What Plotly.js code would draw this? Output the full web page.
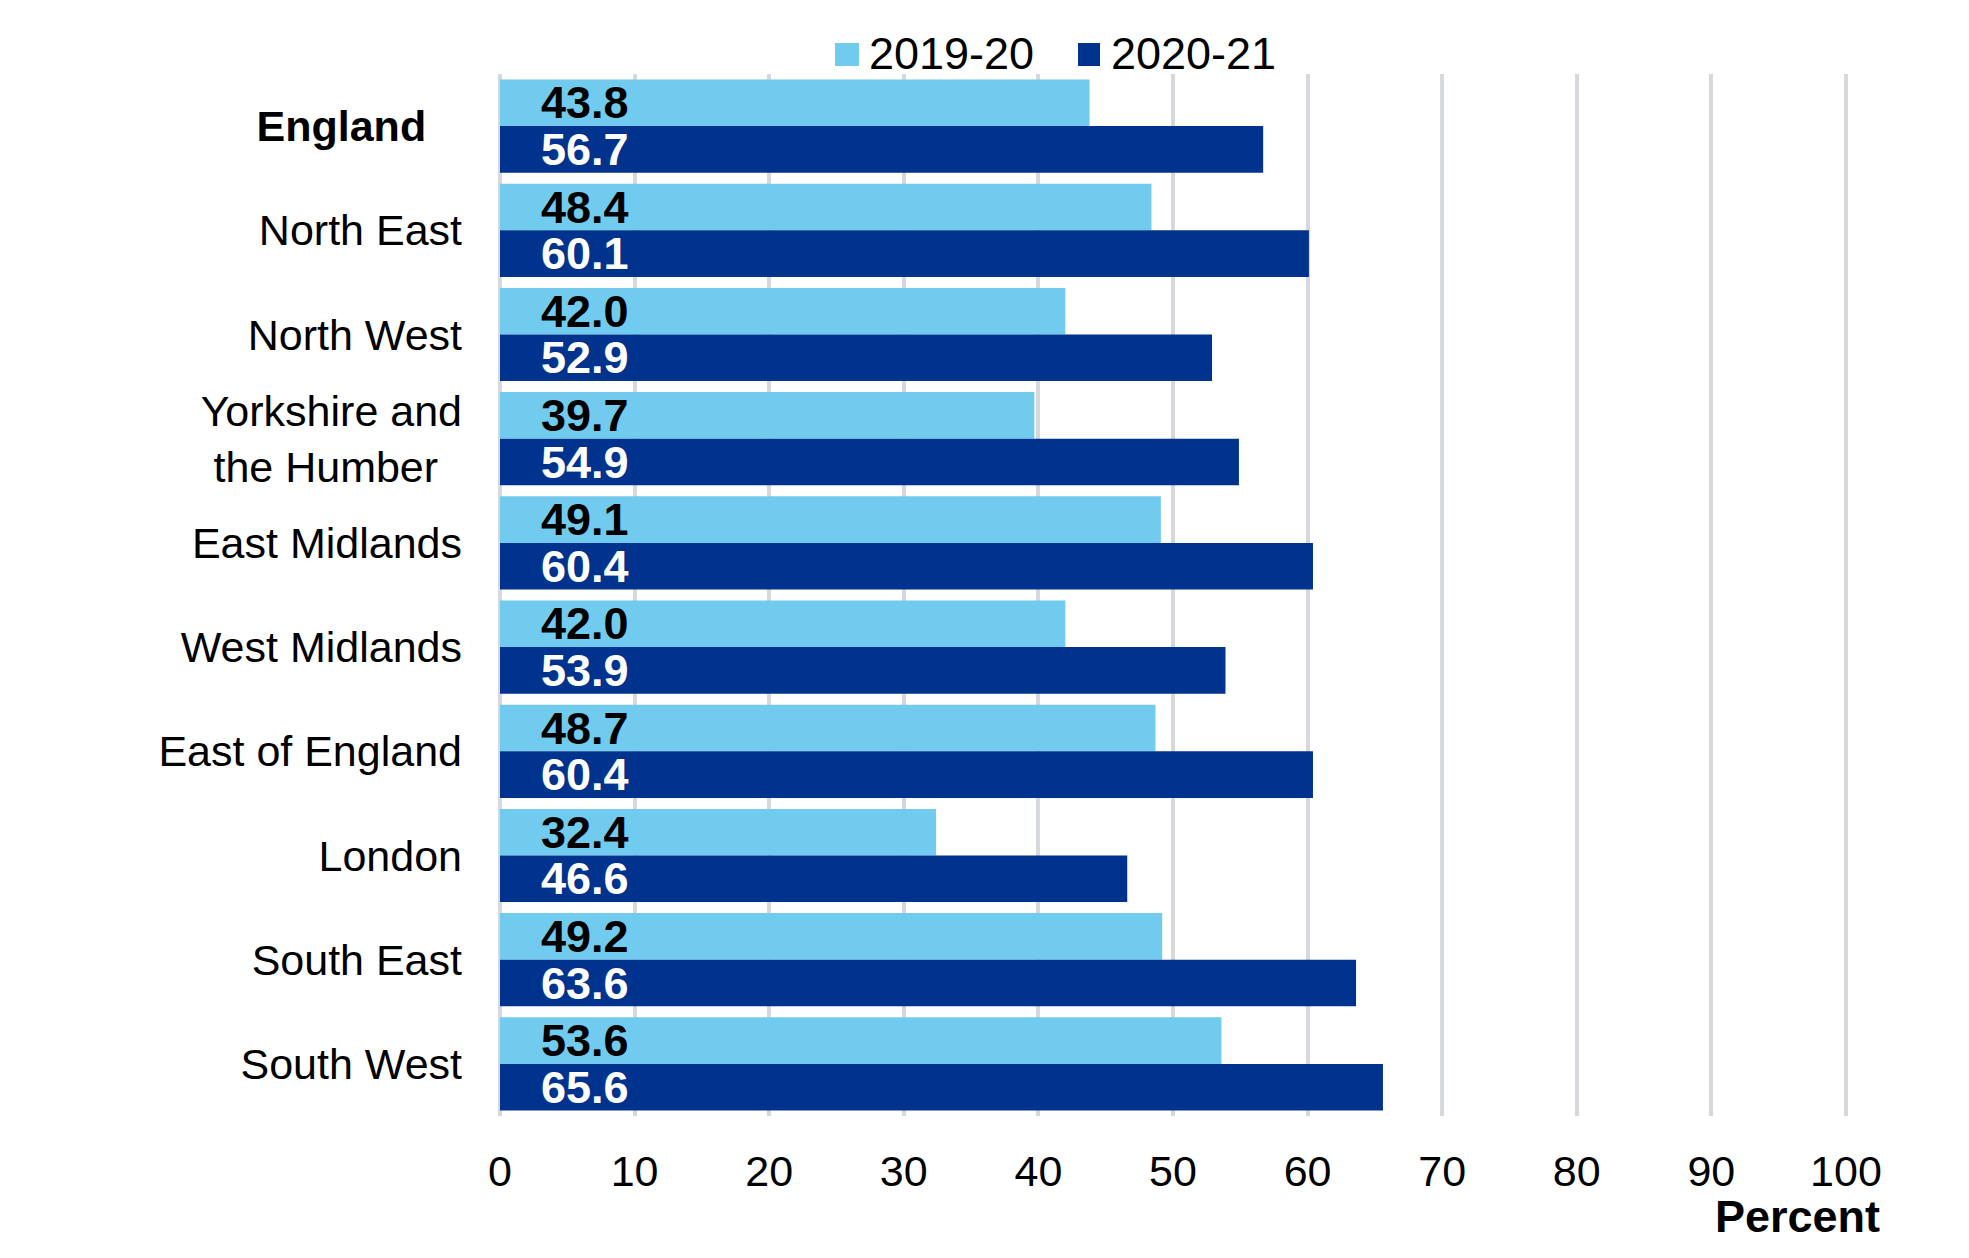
<!DOCTYPE html>
<html>
<head>
<meta charset="utf-8">
<script src="https://cdn.plot.ly/plotly-3.0.1.min.js"></script>
<style>
  html, body { margin: 0; padding: 0; background: #ffffff; }
  #chart { width: 1969px; height: 1258px; }
</style>
</head>
<body>
<div id="chart"></div>
<script>
// Regions of England, top to bottom
const regions = [
  'England', 'North East', 'North West', 'Yorkshire and the Humber',
  'East Midlands', 'West Midlands', 'East of England', 'London',
  'South East', 'South West'
];

// Tick text for each region (England in bold, long name on two lines)
const regionLabels = [
  '<b>England</b>\u00a0\u00a0\u00a0', 'North East', 'North West',
  'Yorkshire and<br>the Humber\u00a0\u00a0',
  'East Midlands', 'West Midlands', 'East of England', 'London',
  'South East', 'South West'
];

const seriesNames = ['2019-20', '2020-21'];

// Percent values per region
const values2019_20 = [43.8, 48.4, 42.0, 39.7, 49.1, 42.0, 48.7, 32.4, 49.2, 53.6];
const values2020_21 = [56.7, 60.1, 52.9, 54.9, 60.4, 53.9, 60.4, 46.6, 63.6, 65.6];

const xTicks = [0, 10, 20, 30, 40, 50, 60, 70, 80, 90, 100];

const colors = ['#71CBEE', '#00338D'];
const labelColors = ['#000000', '#ffffff'];
const FONT = '"Liberation Sans", Arial, Helvetica, sans-serif';

const W = 1969, H = 1258;
const M = { l: 500, r: 121, t: 74, b: 142 };
const plotW = W - M.l - M.r, plotH = H - M.t - M.b;
// helpers: page pixel -> paper coordinate
const px = x => (x - M.l) / plotW;
const py = y => (H - M.b - y) / plotH;

const series = [values2019_20, values2020_21];

const traces = series.map((vals, i) => ({
  type: 'bar',
  orientation: 'h',
  name: seriesNames[i],
  x: vals,
  y: regions,
  marker: { color: colors[i], line: { width: 0 } },
  hoverinfo: 'skip',
  showlegend: false
}));

// value labels near the start of each bar
const annotations = [];
const shift = [23.3, -23.3];
series.forEach((vals, i) => {
  vals.forEach((v, j) => {
    annotations.push({
      x: 6.35, y: regions[j], xref: 'x', yref: 'y',
      yshift: shift[i],
      text: v.toFixed(1),
      showarrow: false,
      xanchor: 'center', yanchor: 'middle',
      font: { family: FONT, size: 45, color: labelColors[i], weight: 'bold' }
    });
  });
});

// legend drawn as swatches and text across the top
const legendItems = [
  { sx0: 835, sx1: 859, tx: 867 },
  { sx0: 1078, sx1: 1100, tx: 1109 }
];
const shapes = [];
legendItems.forEach((it, i) => {
  shapes.push({
    type: 'rect', xref: 'paper', yref: 'paper',
    x0: px(it.sx0), x1: px(it.sx1), y0: py(66), y1: py(43),
    fillcolor: colors[i], line: { width: 0 }
  });
  annotations.push({
    xref: 'paper', yref: 'paper', x: px(it.tx), y: py(54),
    xanchor: 'left', yanchor: 'middle', showarrow: false,
    text: seriesNames[i],
    font: { family: FONT, size: 45, color: '#000000' }
  });
});

// axis unit
annotations.push({
  xref: 'paper', yref: 'paper', x: px(1882), y: py(1216),
  xanchor: 'right', yanchor: 'middle', showarrow: false,
  text: '<b>Percent</b>',
  font: { family: FONT, size: 45, color: '#000000' }
});

const layout = {
  width: W, height: H,
  margin: M,
  paper_bgcolor: '#ffffff',
  plot_bgcolor: '#ffffff',
  barmode: 'group',
  bargap: 0.106,
  bargroupgap: 0,
  font: { family: FONT, color: '#000000' },
  xaxis: {
    // a hair past 100 so the last gridline is kept
    range: [0, 100.15],
    tickvals: xTicks,
    ticktext: xTicks.map(String),
    showgrid: true, gridcolor: '#D5D9DE', gridwidth: 4,
    zeroline: true, zerolinecolor: '#D5D9DE', zerolinewidth: 4,
    showline: false, ticks: '',
    ticklabelstandoff: 26,
    tickfont: { family: FONT, size: 43, color: '#000000' },
    fixedrange: true
  },
  yaxis: {
    type: 'category',
    categoryorder: 'array', categoryarray: regions,
    autorange: 'reversed',
    tickvals: regions, ticktext: regionLabels,
    showgrid: false, zeroline: false, showline: false, ticks: '',
    ticklabelstandoff: 37,
    tickfont: { family: FONT, size: 43, color: '#000000' },
    fixedrange: true
  },
  shapes: shapes,
  annotations: annotations,
  showlegend: false
};

Plotly.newPlot('chart', traces, layout, { staticPlot: true, displayModeBar: false });
</script>
</body>
</html>
